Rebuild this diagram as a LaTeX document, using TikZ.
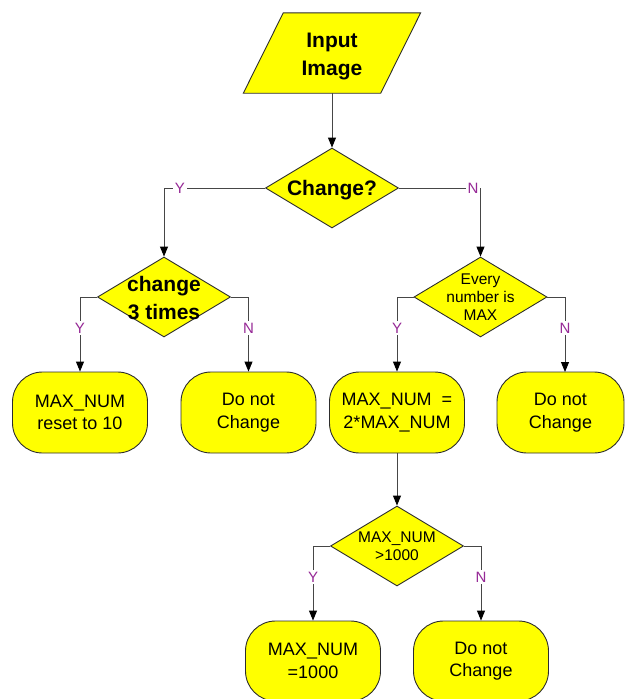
\documentclass[tikz,border=0pt]{standalone}
\usepackage{fontspec}
\setmainfont{Liberation Sans}
\usetikzlibrary{shapes.geometric,arrows.meta,backgrounds}
\definecolor{boxyellow}{RGB}{255,255,0}
\definecolor{edgegray}{RGB}{45,45,45}
\definecolor{wiregray}{RGB}{70,70,70}
\definecolor{ynpurple}{RGB}{150,40,150}
\begin{document}
\begin{tikzpicture}[x=1pt,y=-1pt,
  shapebase/.style={draw=edgegray,line width=0.9pt,fill=boxyellow},
  dia/.style={shapebase,diamond,inner sep=0pt,minimum width=133pt,minimum height=80pt},
  term/.style={shapebase,rectangle,rounded corners=30pt,minimum width=135pt,
    minimum height=81pt,align=center,inner sep=0pt,font=\fontsize{18}{22.5}\selectfont},
  bigtxt/.style={align=center,inner sep=0pt,font=\bfseries\fontsize{21}{28}\selectfont},
  smalltxt/.style={align=center,inner sep=0pt,font=\fontsize{15.5}{18}\selectfont},
  wire/.style={draw=wiregray,line width=0.9pt},
  arr/.style={wire,-{Triangle[length=10pt,width=8pt,fill=black,color=black]}},
  ynlab/.style={text=ynpurple,fill=white,inner sep=1.5pt,font=\fontsize{15}{17}\selectfont}]
\useasboundingbox (0,0) rectangle (626,699);

% input parallelogram
\node[bigtxt,minimum width=137pt,minimum height=80pt] (inp) at (332,53) {};
\node[bigtxt] (inpT) at (332,56) {Input\\Image};
\begin{scope}[on background layer]
  \draw[shapebase] ([xshift=-20pt]inp.south west) -- ([xshift=-20pt]inp.south east)
    -- ([xshift=20pt]inp.north east) -- ([xshift=20pt]inp.north west) -- cycle;
\end{scope}

% decisions
\node[dia] (chg) at (332,188) {};
\node[bigtxt] (chgT) at (332,190.5) {Change?};
\node[dia] (c3) at (164,297) {};
\node[bigtxt] (c3T) at (164,298) {change\\3 times};
\node[dia] (ev) at (480.5,297) {};
\node[smalltxt] (evT) at (ev) {Every\\number is\\MAX};
\node[dia] (m1k) at (397,546) {};
\node[smalltxt] (m1kT) at (m1k) {MAX\_NUM\\>1000};

% terminals
\node[term] (r1) at (80,412.5) {MAX\_NUM\\reset to 10};
\node[term] (r2) at (248.5,412.5) {Do not\\Change};
\node[term] (r3) at (397,412.5) {MAX\_NUM\ \ =\\2*MAX\_NUM};
\node[term,minimum width=127pt] (r4) at (560.5,412.5) {Do not\\Change};
\node[term,minimum height=80pt] (r5) at (313,661) {MAX\_NUM\\=1000};
\node[term,minimum height=80pt] (r6) at (481,661) {Do not\\Change};
\coordinate (r4in) at (565,372);

% connectors
\draw[arr] (inp.south) -- (chg.north);
\draw[arr] (chg.west) -| (c3.north);
\node[ynlab] (y1) at (180,188) {Y};
\draw[arr] (chg.east) -| (ev.north);
\node[ynlab] (n1) at (473,188) {N};

\draw[arr] (c3.west) -| (r1.north);
\node[ynlab] (y2) at (80,328) {Y};
\draw[arr] (c3.east) -| (r2.north);
\node[ynlab] (n2) at (248.5,328) {N};

\draw[arr] (ev.west) -| (r3.north);
\node[ynlab] (y3) at (397,328) {Y};
\draw[arr] (ev.east) -| (r4in);
\node[ynlab] (n3) at (565,328) {N};

\draw[arr] (r3.south) -- (m1k.north);
\draw[arr] (m1k.west) -| (r5.north);
\node[ynlab] (y4) at (313,577) {Y};
\draw[arr] (m1k.east) -| (r6.north);
\node[ynlab] (n4) at (481,577) {N};
\end{tikzpicture}
\end{document}
